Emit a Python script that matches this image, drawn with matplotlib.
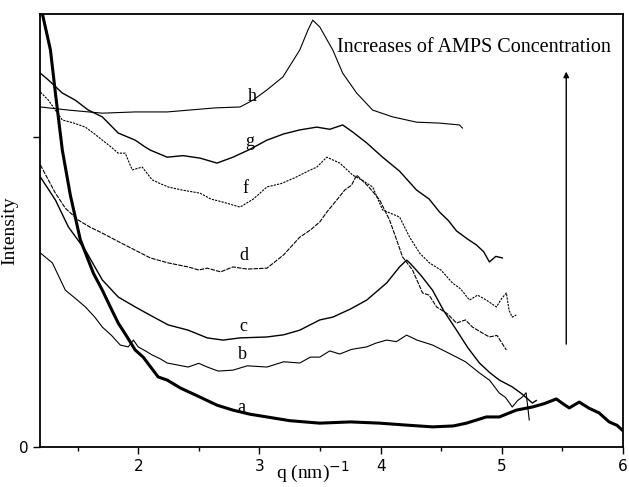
import matplotlib
matplotlib.use("Agg")
import matplotlib.pyplot as plt

# SAXS curves a-h, q in nm^-1, intensity in arbitrary units
q_a = [1.21, 1.276, 1.317, 1.374, 1.44, 1.523, 1.588, 1.63, 1.704, 1.77, 1.835, 1.909, 1.975,
       2.041, 2.165, 2.239, 2.35, 2.51, 2.65, 2.782, 2.92, 3.062, 3.25, 3.498, 3.75, 3.992,
       4.2, 4.428, 4.6, 4.708, 4.872, 4.979, 5.119, 5.251, 5.35, 5.449, 5.51, 5.556, 5.638,
       5.72, 5.802, 5.885, 5.95, 5.992]
i_a = [1.397, 1.281, 1.142, 0.958, 0.813, 0.668, 0.603, 0.561, 0.506, 0.452, 0.4, 0.355, 0.313,
       0.29, 0.226, 0.216, 0.19, 0.161, 0.135, 0.119, 0.106, 0.097, 0.085, 0.077, 0.081, 0.077,
       0.071, 0.065, 0.068, 0.077, 0.097, 0.097, 0.119, 0.129, 0.14, 0.155, 0.138, 0.126, 0.145,
       0.125, 0.11, 0.081, 0.07, 0.055]

q_b = [1.193, 1.292, 1.399, 1.48, 1.564, 1.64, 1.704, 1.78, 1.852, 1.918, 1.96, 2.0, 2.06, 2.115,
       2.18, 2.239, 2.32, 2.412, 2.5, 2.57, 2.66, 2.782, 2.9, 3.062, 3.2, 3.333, 3.42, 3.498,
       3.58, 3.663, 3.76, 3.885, 3.96, 4.049, 4.13, 4.214, 4.3, 4.428, 4.5, 4.626, 4.7, 4.815,
       4.9, 4.979, 5.03, 5.086, 5.13, 5.168, 5.2, 5.226]
i_b = [0.626, 0.594, 0.506, 0.48, 0.452, 0.42, 0.387, 0.36, 0.329, 0.323, 0.345, 0.323, 0.31, 0.297,
       0.285, 0.271, 0.265, 0.258, 0.27, 0.258, 0.245, 0.248, 0.262, 0.258, 0.275, 0.271, 0.29, 0.29,
       0.31, 0.3, 0.315, 0.323, 0.335, 0.345, 0.34, 0.361, 0.345, 0.329, 0.315, 0.29, 0.275, 0.239,
       0.215, 0.174, 0.16, 0.129, 0.15, 0.161, 0.175, 0.087]

q_c = [1.193, 1.317, 1.424, 1.564, 1.704, 1.835, 1.975, 2.1, 2.247, 2.412, 2.57, 2.7, 2.84,
       3.062, 3.2, 3.333, 3.498, 3.605, 3.75, 3.885, 4.049, 4.156, 4.214, 4.24, 4.33, 4.428,
       4.52, 4.626, 4.72, 4.815, 4.9, 4.979, 5.086, 5.17, 5.251, 5.284]
i_c = [0.871, 0.797, 0.71, 0.635, 0.539, 0.484, 0.452, 0.425, 0.394, 0.377, 0.352, 0.345, 0.352,
       0.355, 0.362, 0.377, 0.41, 0.419, 0.445, 0.474, 0.529, 0.581, 0.603, 0.594, 0.555, 0.506,
       0.44, 0.377, 0.32, 0.271, 0.24, 0.216, 0.194, 0.17, 0.142, 0.15]

q_d = [1.193, 1.317, 1.4, 1.506, 1.6, 1.704, 1.85, 1.975, 2.1, 2.247, 2.412, 2.5, 2.57, 2.68,
       2.782, 2.9, 3.062, 3.2, 3.333, 3.42, 3.498, 3.56, 3.605, 3.704, 3.76, 3.802, 3.827, 3.9,
       3.992, 4.074, 4.132, 4.181, 4.263, 4.346, 4.4, 4.461, 4.55, 4.626, 4.7, 4.757, 4.83,
       4.897, 4.96, 5.037]
i_d = [0.91, 0.819, 0.77, 0.732, 0.71, 0.69, 0.66, 0.635, 0.61, 0.594, 0.581, 0.571, 0.577, 0.565,
       0.581, 0.574, 0.577, 0.62, 0.677, 0.7, 0.726, 0.76, 0.781, 0.829, 0.845, 0.877, 0.868, 0.84,
       0.797, 0.732, 0.668, 0.613, 0.571, 0.497, 0.49, 0.452, 0.43, 0.4, 0.41, 0.387, 0.37,
       0.355, 0.36, 0.313]

q_f = [1.193, 1.259, 1.374, 1.47, 1.564, 1.64, 1.704, 1.77, 1.835, 1.893, 1.951, 2.033, 2.115,
       2.18, 2.247, 2.362, 2.51, 2.6, 2.7, 2.84, 2.95, 3.062, 3.18, 3.3, 3.4, 3.473, 3.556,
       3.663, 3.77, 3.85, 3.934, 4.016, 4.156, 4.239, 4.321, 4.403, 4.5, 4.593, 4.66, 4.733,
       4.8, 4.872, 4.955, 5.0, 5.037, 5.06, 5.086, 5.119]
i_f = [1.145, 1.119, 1.055, 1.045, 1.032, 1.01, 0.99, 0.97, 0.948, 0.948, 0.894, 0.903, 0.862,
       0.85, 0.839, 0.829, 0.819, 0.8, 0.79, 0.774, 0.8, 0.839, 0.85, 0.87, 0.89, 0.903, 0.935,
       0.916, 0.877, 0.86, 0.839, 0.765, 0.742, 0.677, 0.626, 0.594, 0.57, 0.529, 0.51, 0.474,
       0.49, 0.474, 0.452, 0.48, 0.497, 0.44, 0.419, 0.426]

q_g = [1.193, 1.259, 1.374, 1.481, 1.588, 1.704, 1.835, 1.975, 2.057, 2.099, 2.239, 2.37, 2.51,
       2.65, 2.782, 2.92, 3.062, 3.2, 3.333, 3.473, 3.58, 3.687, 3.77, 3.885, 4.016, 4.156, 4.296,
       4.4, 4.486, 4.56, 4.626, 4.72, 4.79, 4.85, 4.897, 4.95, 5.004]
i_g = [1.206, 1.184, 1.142, 1.119, 1.087, 1.065, 1.013, 0.99, 0.968, 0.958, 0.935, 0.94, 0.932,
       0.916, 0.935, 0.96, 0.99, 1.01, 1.023, 1.032, 1.025, 1.039, 1.016, 0.981, 0.935, 0.89, 0.829,
       0.8, 0.758, 0.73, 0.697, 0.67, 0.652, 0.63, 0.597, 0.615, 0.61]

q_h = [1.193, 1.424, 1.704, 1.975, 2.24, 2.634, 2.84, 2.947, 3.062, 3.194, 3.333, 3.4, 3.44,
       3.498, 3.605, 3.687, 3.802, 3.934, 4.099, 4.296, 4.486, 4.65, 4.675]
i_h = [1.097, 1.087, 1.077, 1.081, 1.081, 1.094, 1.097, 1.119, 1.152, 1.194, 1.281, 1.345, 1.377,
       1.355, 1.281, 1.206, 1.142, 1.087, 1.065, 1.048, 1.045, 1.039, 1.029]

curve_labels = ["h", "g", "f", "d", "c", "b", "a"]
label_q = [2.938, 2.922, 2.881, 2.872, 2.864, 2.864, 2.848]
label_i = [1.132, 0.984, 0.835, 0.619, 0.390, 0.300, 0.129]

fig = plt.figure(figsize=(6.29, 4.87), dpi=100)
ax = fig.add_axes([0.0636, 0.0821, 0.927, 0.8892])

ax.plot(q_a, i_a, color="black", lw=2.2)
ax.plot(q_b, i_b, color="black", lw=0.8)
ax.plot(q_c, i_c, color="black", lw=1.0)
ax.plot(q_d, i_d, color="black", lw=0.8, linestyle=(0, (4, 1)))
ax.plot(q_f, i_f, color="black", lw=0.8, linestyle=(0, (2, 1)))
ax.plot(q_g, i_g, color="black", lw=1.0)
ax.plot(q_h, i_h, color="black", lw=0.8)

for lab, x, y in zip(curve_labels, label_q, label_i):
    ax.text(x, y, lab, family="Liberation Serif", fontsize=13, ha="center", va="center")

ax.text(3.638, 1.29, "Increases of AMPS Concentration", family="Liberation Serif",
        fontsize=14.5, ha="left", va="center")
ax.annotate("", xy=(5.531, 1.22), xytext=(5.531, 0.323),
            arrowprops=dict(arrowstyle="-|>", color="black", lw=1.0, mutation_scale=8))

ax.set_xlim(1.19, 6.0)
ax.set_ylim(0, 1.397)
ax.set_xticks([2, 3, 4, 5, 6])
ax.set_xticks([1.5, 2.5, 3.5, 4.5, 5.5], minor=True)
ax.set_yticks([0, 1])
ax.set_yticklabels(["0", ""])
ax.tick_params(direction="out", length=5, width=1, labelsize=11)
ax.tick_params(which="minor", direction="out", length=3, width=1)
for s in ax.spines.values():
    s.set_linewidth(1.3)

ax.set_ylabel("Intensity", family="Liberation Serif", fontsize=14)
ax.yaxis.set_label_coords(-0.038, 0.50)
ax.set_xlabel("q (nm)$^{-1}$", family="Liberation Serif", fontsize=14)
ax.xaxis.set_label_coords(0.467, -0.03)

fig.savefig("out.png", dpi=100)
